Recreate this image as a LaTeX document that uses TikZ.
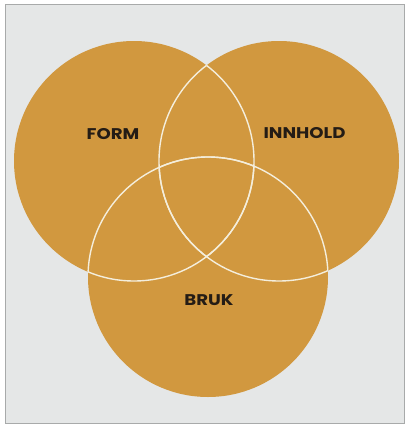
\documentclass[tikz,border=0pt]{standalone}
\usepackage{fontspec}
\setmainfont{Poppins}
\definecolor{paper}{HTML}{E5E7E7}
\definecolor{frameg}{HTML}{A8AAAA}
\definecolor{venn}{HTML}{D1983F}
\definecolor{ink}{HTML}{241C15}
\definecolor{rim}{HTML}{F4EEDC}
\newcommand{\vennword}[1]{\scalebox{1.17}[1]{#1}}
\tikzset{
  vennset/.style={circle, fill=venn, minimum size=240pt, inner sep=0pt, draw=none},
  vennlabel/.style={font=\fontsize{15.5}{17}\selectfont\bfseries, text=ink, inner sep=0pt},
  rimline/.style={draw=rim, line width=1.4pt}
}
\begin{document}
\begin{tikzpicture}[x=1pt, y=-1pt]
\useasboundingbox (0,0) rectangle (406,426);
\fill[white] (0,0) rectangle (406,426);
\fill[paper, draw=frameg, line width=0.8pt] (5,4) rectangle (404,423);
\node[vennset] (form) at (134,161) {};
\node[vennset] (innhold) at (279,161) {};
\node[vennset] (bruk) at (208,277) {};
% white rims where circles overlap
\begin{scope}
  \clip (innhold.center) circle (120pt);
  \draw[rimline] (form.center) circle (120pt);
\end{scope}
\begin{scope}
  \clip (bruk.center) circle (120pt);
  \draw[rimline] (form.center) circle (120pt);
  \draw[rimline] (innhold.center) circle (120pt);
\end{scope}
\begin{scope}
  \clip (form.center) circle (120pt);
  \draw[rimline] (innhold.center) circle (120pt);
  \draw[rimline] (bruk.center) circle (120pt);
\end{scope}
\begin{scope}
  \clip (innhold.center) circle (120pt);
  \draw[rimline] (bruk.center) circle (120pt);
\end{scope}
\node[vennlabel] (lform) at (113,134.5) {\vennword{FORM}};
\node[vennlabel] (linnhold) at (304.5,133.5) {\vennword{INNHOLD}};
\node[vennlabel] (lbruk) at (209,300) {\vennword{BRUK}};
\end{tikzpicture}
\end{document}
